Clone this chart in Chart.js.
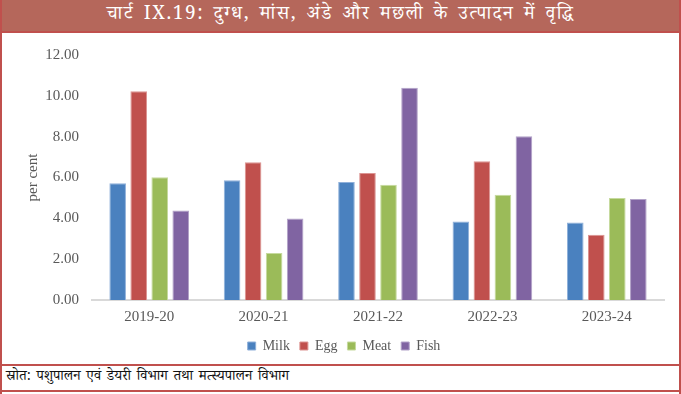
<!DOCTYPE html>
<html>
<head>
<meta charset="utf-8">
<script src="https://cdn.jsdelivr.net/npm/chart.js@4"></script>
<style>
  html, body { margin:0; padding:0; background:#fff; }
  #wrap { position:relative; width:681px; height:394px; box-sizing:border-box; border-left:2px solid #C0504D; border-right:2px solid #C0504D; overflow:hidden; }
  #title { position:absolute; left:0; top:0; width:677px; height:31px; background:#B5675B; border-bottom:2px solid #C0504D; color:#fff; font-family:"Noto Serif Devanagari","Noto Sans Devanagari","Noto Sans","DejaVu Sans",sans-serif; font-size:19px; letter-spacing:1.6px; word-spacing:3px; display:flex; align-items:center; justify-content:center; white-space:nowrap; }
  #chartbox { position:absolute; left:0; top:33px; width:677px; height:331px; }
  #foot { position:absolute; left:0; top:364px; width:677px; height:28px; border-top:2px solid #C0504D; border-bottom:2px solid #C0504D; font-family:"Noto Serif Devanagari","Noto Sans Devanagari","Noto Sans","DejaVu Sans",sans-serif; font-size:14.3px; word-spacing:2px; color:#111; padding-left:4px; box-sizing:border-box; white-space:nowrap; display:flex; align-items:center; }
</style>
</head>
<body>
<div id="wrap">
  <div id="title">चार्ट IX.19: दुग्ध, मांस, अंडे और मछली के उत्पादन में वृद्धि</div>
  <div id="chartbox"><canvas id="c"></canvas></div>
  <div id="foot">स्रोत: पशुपालन एवं डेयरी विभाग तथा मत्स्यपालन विभाग</div>
</div>
<script>
const categories = ["2019-20", "2020-21", "2021-22", "2022-23", "2023-24"];
const milk = [5.72, 5.87, 5.78, 3.84, 3.79];
const egg  = [10.23, 6.75, 6.22, 6.80, 3.19];
const meat = [6.01, 2.30, 5.64, 5.15, 4.99];
const fish = [4.38, 3.99, 10.39, 8.02, 4.95];
const yTicks = [0, 2, 4, 6, 8, 10, 12];

const serif = "Liberation Serif, DejaVu Serif, serif";
function ds(label, data, color, border) {
  return { label, data, backgroundColor: color, borderColor: border, borderWidth: 1,
           barPercentage: 0.79, categoryPercentage: 0.735 };
}
new Chart(document.getElementById('c'), {
  type: 'bar',
  data: {
    labels: categories,
    datasets: [
      ds('Milk', milk, '#4A81BF', '#8FB0DA'),
      ds('Egg', egg, '#C0504D', '#DC9492'),
      ds('Meat', meat, '#9BBB59', '#C6DA9E'),
      ds('Fish', fish, '#8064A2', '#B2A2C8')
    ]
  },
  options: {
    responsive: true,
    maintainAspectRatio: false,
    animation: false,
    layout: { padding: { top: 17, right: 15, bottom: 1, left: 22 } },
    plugins: {
      legend: {
        position: 'bottom',
        labels: { boxWidth: 8, boxHeight: 8, padding: 10, color: '#595959', font: { family: serif, size: 14 } }
      },
      tooltip: { enabled: false }
    },
    scales: {
      x: {
        grid: { display: false, drawTicks: false },
        border: { display: true, color: '#D9D9D9', width: 2 },
        ticks: { color: '#595959', font: { family: serif, size: 15 }, padding: 8 },
        afterFit: s => { s.height = 29; }
      },
      y: {
        min: 0, max: 12,
        afterBuildTicks: s => { s.ticks = yTicks.map(v => ({ value: v })); },
        grid: { display: false, drawTicks: false },
        border: { display: false },
        title: { display: true, text: 'per cent', color: '#595959', font: { family: serif, size: 15 }, padding: 0 },
        ticks: { color: '#595959', font: { family: serif, size: 15 }, padding: 13, callback: v => Number(v).toFixed(2) },
        afterFit: s => { s.width = 68; }
      }
    }
  }
});
</script>
</body>
</html>
